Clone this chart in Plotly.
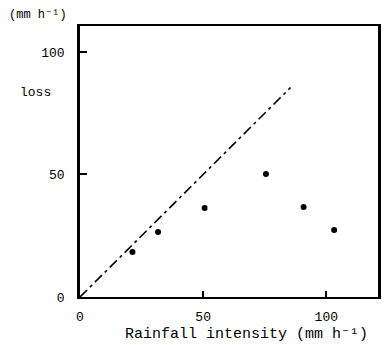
import plotly.graph_objects as go

# Data
intensity = [21.3, 31.7, 50.6, 75.5, 90.8, 103.2]
loss = [18.4, 26.5, 36.3, 50.2, 36.7, 27.3]
line_x = [0, 85.5]
line_y = [0, 85.5]
x_ticks = [0, 50, 100]
y_ticks = [0, 50, 100]

MONO = "Liberation Mono, Courier New, monospace"

W, H = 388, 345
L, R, T, B = 80, 7, 26, 48
PW, PH = W - L - R, H - T - B


def px_to_paper(px, py):
    return (px - L) / PW, 1 - (py - T) / PH


fig = go.Figure()
fig.add_trace(go.Scatter(x=line_x, y=line_y, mode="lines",
                         line=dict(color="black", width=1.6, dash="10px,4px,3px,4px"),
                         showlegend=False, hoverinfo="skip"))
fig.add_trace(go.Scatter(x=intensity, y=loss, mode="markers",
                         marker=dict(color="black", size=6),
                         showlegend=False))

annotations = []
for text, px, py, size in [("(mm h⁻¹)", 6, 15, 12),
                           ("loss", 17, 92, 13),
                           ("Rainfall intensity (mm h⁻¹)", 123, 334, 15)]:
    ax, ay = px_to_paper(px, py)
    annotations.append(dict(text=text, x=ax, y=ay, xref="paper", yref="paper",
                            showarrow=False, font=dict(family=MONO, size=size),
                            xanchor="left", yanchor="middle"))

fig.update_layout(
    width=W, height=H,
    margin=dict(l=L, r=R, t=T, b=B),
    paper_bgcolor="white", plot_bgcolor="white",
    font=dict(family=MONO, size=13, color="black"),
    xaxis=dict(range=[0, 121], tickvals=x_ticks, ticks="inside", ticklen=6,
               tickwidth=1.5, tickcolor="black", showgrid=False, zeroline=False,
               showline=True, linecolor="black", linewidth=2, mirror=True,
               ticklabelstandoff=6, tickfont=dict(family=MONO, size=13)),
    yaxis=dict(range=[0, 110.6], tickvals=y_ticks, ticks="inside", ticklen=7,
               tickwidth=1.5, tickcolor="black", showgrid=False, zeroline=False,
               showline=True, linecolor="black", linewidth=2.5, mirror=True,
               ticklabelstandoff=10, tickfont=dict(family=MONO, size=13)),
    annotations=annotations,
)

fig.write_html("out.html")
